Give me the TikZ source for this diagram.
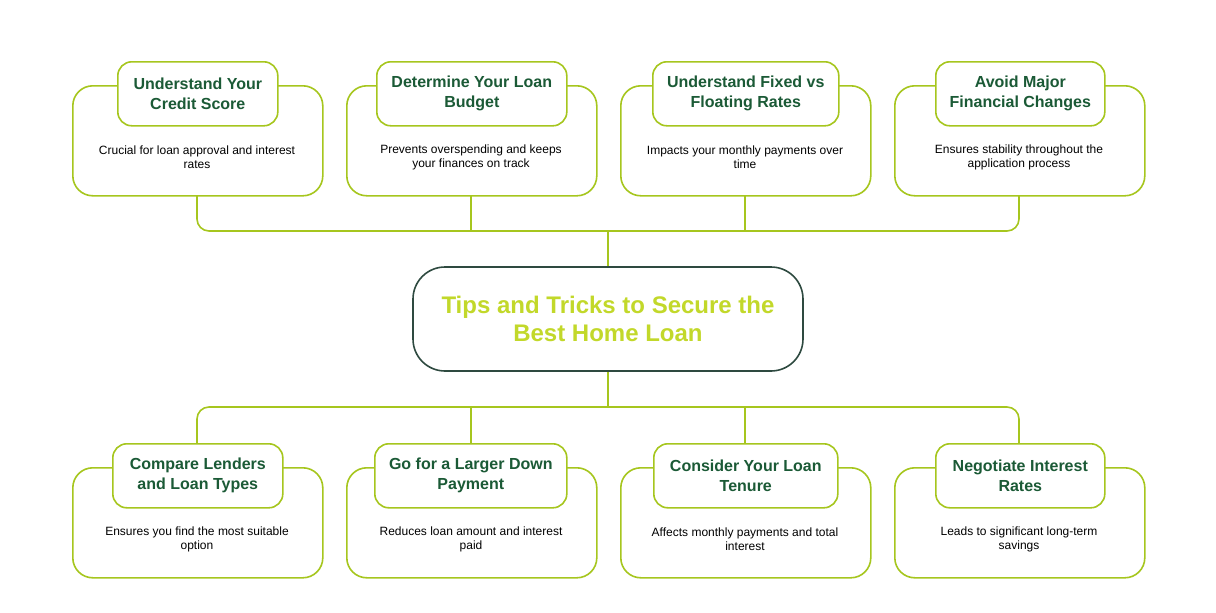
\documentclass[tikz,border=0pt]{standalone}
\usepackage{fontspec}
\setmainfont{Liberation Sans}
\begin{document}
\begin{tikzpicture}[x=1pt,y=-1pt,
  ln/.style={draw=lg,line width=1.6pt},
  outer/.style={ln,fill=white,rounded corners=20pt,minimum width=250pt,minimum height=110pt,anchor=north west,inner sep=0},
  ttl/.style={ln,fill=white,rounded corners=14pt,minimum height=64pt,anchor=north west,align=center,inner sep=0,font=\bfseries\fontsize{16}{20}\selectfont,text=tg},
  dsc/.style={align=center,font=\fontsize{12}{14}\selectfont}]
\definecolor{lg}{HTML}{A6C61E}
\definecolor{tg}{HTML}{1B5A36}
\definecolor{cg}{HTML}{C2D82A}
\definecolor{dk}{HTML}{2E4A40}
\useasboundingbox (0,0) rectangle (1216,613);
% central
\node[draw=dk,line width=1.6pt,rounded corners=32pt,minimum width=390pt,minimum height=104pt,align=center,text=cg,font=\bfseries\fontsize{24}{28}\selectfont] (c) at (608,319) {Tips and Tricks to Secure the\\Best Home Loan};
% connectors
\draw[ln,rounded corners=12pt] (197,194) -- (197,231) -- (1019,231) -- (1019,194);
\draw[ln] (471,194) -- (471,231) (745,194)--(745,231) (608,231) -- (c.north);
\draw[ln,rounded corners=12pt] (197,443) -- (197,407) -- (1019,407) -- (1019,443);
\draw[ln] (471,443) -- (471,407) (745,443)--(745,407) (608,407) -- (c.south);
% top
\foreach \x/\tl/\tw/\t/\d [count=\i] in {
 72/117/160/{Understand Your\\Credit Score}/{Crucial for loan approval and interest\\rates},
 346/376/190/{Determine Your Loan\\Budget}/{Prevents overspending and keeps\\your finances on track},
 620/652/186/{Understand Fixed vs\\Floating Rates}/{Impacts your monthly payments over\\time},
 894/935/169/{Avoid Major\\Financial Changes}/{Ensures stability throughout the\\application process}}{
  \node[outer] (o\i) at (\x,85) {};
  \node[ttl,minimum width=\tw pt] (t\i) at (\tl,61) {\t};
  \node[dsc] (d\i) at (\x+125,157) {\d};
}
\foreach \x/\tl/\tw/\t/\d [count=\i] in {
 72/112/170/{Compare Lenders\\and Loan Types}/{Ensures you find the most suitable\\option},
 346/374/192/{Go for a Larger Down\\Payment}/{Reduces loan amount and interest\\paid},
 620/653/184/{Consider Your Loan\\Tenure}/{Affects monthly payments and total\\interest},
 894/935/169/{Negotiate Interest\\Rates}/{Leads to significant long-term\\savings}}{
  \node[outer] (p\i) at (\x,467) {};
  \node[ttl,minimum width=\tw pt] (s\i) at (\tl,443) {\t};
  \node[dsc] (e\i) at (\x+125,539) {\d};
}
\end{tikzpicture}
\end{document}
